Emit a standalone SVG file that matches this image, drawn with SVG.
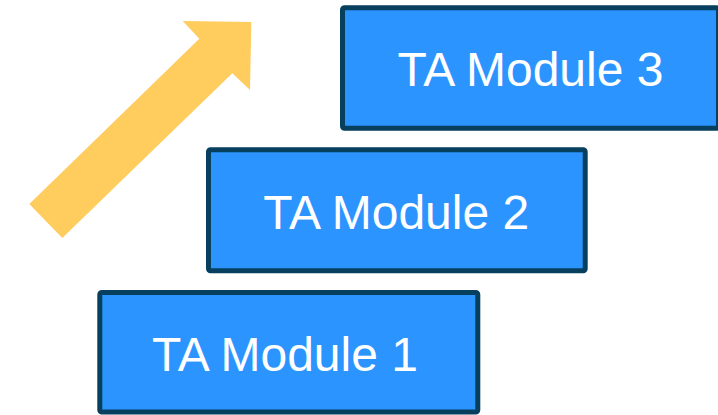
<svg xmlns="http://www.w3.org/2000/svg" width="718" height="415" viewBox="0 0 718 415">
<style>
.box{fill:#2B94FF;stroke:#073F5E;stroke-width:5;}
.lbl{font-family:"Liberation Sans",Arial,sans-serif;font-size:48px;fill:#FFFFFF;text-anchor:middle;}
</style>
<rect width="718" height="415" fill="#FFFFFF"/>
<g id="arrow">
<polygon points="29.3,204 199.3,38.7 182.7,21 251.3,22 250,90 232.3,73.3 62.3,238" fill="#FFCC5E"/>
</g>
<g id="module1">
<rect class="box" x="99.8" y="292.5" width="378" height="119.5" rx="2"/>
<text class="lbl" x="285" y="370.7">TA Module 1</text>
</g>
<g id="module2">
<rect class="box" x="208.5" y="149.8" width="376.7" height="121" rx="2"/>
<text class="lbl" x="396.2" y="229.3">TA Module 2</text>
</g>
<g id="module3">
<rect class="box" x="342.5" y="7.8" width="376" height="120.5" rx="2"/>
<text class="lbl" x="530.5" y="86">TA Module 3</text>
</g>
<g id="connectors"></g>
</svg>
